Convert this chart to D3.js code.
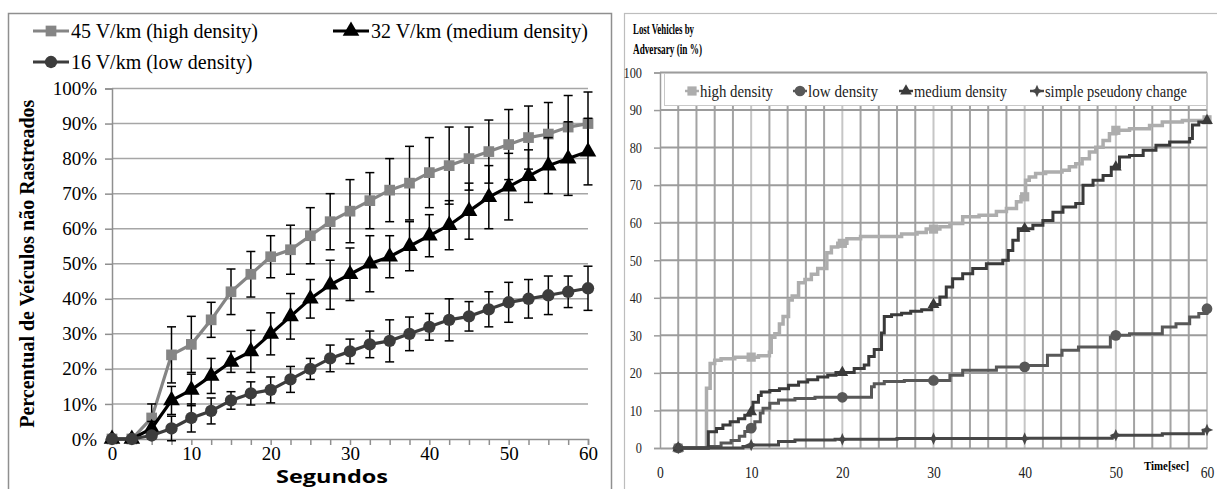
<!DOCTYPE html>
<html>
<head>
<meta charset="utf-8">
<script src="https://cdn.jsdelivr.net/npm/d3@7"></script>
<style>
  body { margin: 0; background: #fff; }
  svg { display: block; }
  svg text { font-family: "Liberation Serif", "Times New Roman", "DejaVu Serif", serif; }
</style>
</head>
<body>
<div id="chart"></div>
<script>
// ---------- left chart data ----------
var leftTimes = [0, 2.5, 5, 7.5, 10, 12.5, 15, 17.5, 20, 22.5, 25, 27.5, 30, 32.5, 35, 37.5, 40, 42.5, 45, 47.5, 50, 52.5, 55, 57.5, 60];
var highVals = [0, 0, 6, 24, 27, 34, 42, 47, 52, 54, 58, 62, 65, 68, 71, 73, 76, 78, 80, 82, 84, 86, 87, 89, 90];
var highErr  = [0, 0, 4, 8, 8, 5, 6.5, 6.5, 6, 7, 8, 8, 9, 8, 9, 10.5, 10, 11, 9, 9, 10, 9, 9, 9, 9];
var medVals  = [0, 0, 3, 11, 14, 18, 22, 25, 30, 35, 40, 44, 47, 50, 52, 55, 58, 61, 65, 69, 72, 75, 78, 80, 82];
var medErr   = [0, 0, 2, 4, 4.5, 5, 3, 6, 6, 6.5, 5.5, 7, 7.5, 8, 6, 7, 6, 7, 8, 9, 9.5, 7.5, 8, 10.5, 9.5];
var lowVals  = [0, 0, 1, 3, 6, 8, 11, 13, 14, 17, 20, 23, 25, 27, 28, 30, 32, 34, 35, 37, 39, 40, 41, 42, 43];
var lowErr   = [0, 0, 1, 3.5, 4, 3.7, 2.5, 3.3, 3.7, 3.7, 3, 3.8, 3.5, 3.8, 6, 4.8, 3.8, 6, 4.2, 5, 5.7, 5.5, 5.5, 4.5, 6.3];
var leftYTicks = [0, 10, 20, 30, 40, 50, 60, 70, 80, 90, 100];
var leftXLabels = [0, 10, 20, 30, 40, 50, 60];
var leftNames = ["45 V/km (high density)", "32 V/km (medium density)", "16 V/km (low density)"];

// ---------- right chart data (step points) ----------
var highT = [2, 5.1, 5.5, 6.0, 6.7, 8.2, 10.8, 12.0, 12.2, 12.6, 13.1, 13.5, 14.1, 14.5, 15.2, 15.9, 16.6, 17.3, 18.3, 18.8, 19.5, 20.5, 22, 26.5, 28.2, 29.2, 30.7, 31.8, 33.2, 35.0, 36.9, 38.0, 39.1, 39.6, 40.1, 40.5, 41.2, 42.3, 44.1, 44.9, 45.6, 46.3, 47.1, 47.8, 48.6, 49.3, 50.0, 51.5, 53.7, 55.1, 57.3, 60];
var highV = [0, 15.9, 22.5, 23.4, 23.8, 24.2, 24.6, 25.5, 29.5, 30.4, 33, 35, 39.4, 40.5, 44, 44.9, 46.3, 47.8, 52, 53.5, 54.5, 55.7, 56.3, 57, 57.4, 58.3, 58.9, 59.8, 61.6, 62, 63, 63.8, 65.6, 66.9, 71.3, 72.2, 73.1, 73.5, 74, 74.9, 75.7, 77, 78.8, 80.1, 81.9, 83.7, 84.6, 85, 85.9, 86.8, 87.2, 87.4];
var lowT = [2, 5.3, 6.7, 7.8, 8.7, 9.3, 10.0, 10.4, 11.0, 11.3, 12.05, 13.0, 14.8, 17.0, 23.2, 23.5, 24.6, 26.8, 31.8, 33.2, 36.9, 40.1, 42.5, 44.1, 45.9, 49.4, 50.0, 51.5, 55.1, 56.6, 58.1, 59.1, 60];
var lowV = [0, 0.4, 1.3, 2, 3.1, 4.4, 5.3, 7, 9.3, 10.6, 11.9, 12.8, 13.2, 13.5, 16.3, 17.1, 17.7, 18, 19.4, 20.7, 21.6, 22, 24.7, 26, 26.9, 29.5, 30, 30.4, 32.2, 33.1, 34.9, 35.8, 37.1];
var medT = [2, 5.3, 6.2, 6.9, 7.7, 8.6, 9.3, 9.9, 10.2, 10.8, 11.1, 12.05, 13.1, 14.1, 15.2, 16.2, 17.3, 18.4, 19.3, 21.3, 22.4, 22.9, 23.5, 24.3, 24.6, 25.4, 26.5, 27.5, 28.7, 29.8, 30.7, 31.4, 32.1, 33.2, 34.3, 35.8, 37.6, 38.2, 38.7, 39.3, 40.9, 42.0, 43.1, 44.2, 45.6, 46.4, 47.5, 48.6, 49.5, 50.4, 51.5, 53.0, 54.4, 55.9, 58.1, 58.4, 59.1, 60];
var medV = [0, 4.3, 5.2, 6.1, 7, 7.8, 8.7, 9.6, 12.2, 14, 14.9, 15.3, 15.8, 16.7, 17.6, 18.2, 18.9, 19.4, 20.1, 21.2, 22.1, 24.4, 26.2, 30.6, 35, 35.5, 35.9, 36.4, 36.8, 38.2, 40.2, 42.9, 45.1, 46.4, 47.8, 49.1, 50, 52.6, 55.3, 58.4, 59.3, 60.6, 62.8, 64.2, 65.1, 70, 71.3, 72.6, 74.8, 77.5, 77.9, 79.3, 80.6, 81.5, 82.4, 86, 86.8, 87.2];
var simpleT = [2, 9.1, 10.0, 13.0, 14.8, 19.2, 26, 40.1, 49.6, 50.0, 55.1, 59.6, 60];
var simpleV = [0, 0.4, 0.8, 1.7, 2.1, 2.3, 2.5, 2.6, 2.9, 3.4, 3.8, 4.7, 4.8];
var markerTimes = [2, 10, 20, 30, 40, 50, 60];
var rightYTicks = [0, 10, 20, 30, 40, 50, 60, 70, 80, 90, 100];
var rightXLabels = [0, 10, 20, 30, 40, 50, 60];
var rightGridX = [2, 4, 6, 8, 10, 12, 14, 16, 18, 20, 22, 24, 26, 28, 30, 32, 34, 36, 38, 40, 42, 44, 46, 48, 50, 52, 54, 56, 58, 60];
var rightNames = ["high density", "low density", "medium density", "simple pseudony change"];

var svg = d3.select("#chart").append("svg")
    .attr("width", 1217)
    .attr("height", 489);

// four point star used by the "simple pseudony change" series
var star4 = {
  draw: function(ctx, size) {
    var r = Math.sqrt(size) * 0.75, q = r * 0.3;
    ctx.moveTo(0, -r); ctx.lineTo(q, -q); ctx.lineTo(r, 0); ctx.lineTo(q, q);
    ctx.lineTo(0, r); ctx.lineTo(-q, q); ctx.lineTo(-r, 0); ctx.lineTo(-q, -q);
    ctx.closePath();
  }
};

var serif = "\"Liberation Serif\", \"Times New Roman\", \"DejaVu Serif\", serif";

// ================= LEFT CHART =================
svg.append("rect")
    .attr("x", 8.5).attr("y", 13.5).attr("width", 603).attr("height", 490)
    .attr("fill", "none").attr("stroke", "#8f8f8f").attr("stroke-width", 1.5);

var lx = d3.scaleLinear().domain([0, 60]).range([112, 588]);
var ly = d3.scaleLinear().domain([0, 100]).range([439, 88.5]);

// gridlines
svg.append("g").selectAll("line")
    .data(leftYTicks.filter(function(d) { return d > 0; }))
  .enter().append("line")
    .attr("x1", lx(0)).attr("x2", lx(60))
    .attr("y1", function(d) { return ly(d); })
    .attr("y2", function(d) { return ly(d); })
    .attr("stroke", "#a6a6a6").attr("stroke-width", 1.5);

// y axis
var lyAxis = svg.append("g")
    .attr("transform", "translate(" + lx(0) + ",0)")
    .call(d3.axisLeft(ly).tickValues(leftYTicks).tickSize(7).tickPadding(8)
      .tickFormat(function(d) { return d + "%"; }));
lyAxis.select(".domain").attr("stroke", "#8f8f8f").attr("stroke-width", 1.5);
lyAxis.selectAll(".tick line").attr("stroke", "#8f8f8f").attr("stroke-width", 1.5);
lyAxis.selectAll("text").style("font-family", serif).style("font-size", "19px").attr("fill", "#000");

// x axis
var lxAxis = svg.append("g")
    .attr("transform", "translate(0," + ly(0) + ")")
    .call(d3.axisBottom(lx).tickValues(leftTimes).tickSize(6).tickPadding(2)
      .tickFormat(function(d) { return leftXLabels.indexOf(d) >= 0 ? d : ""; }));
lxAxis.select(".domain").attr("stroke", "#8f8f8f").attr("stroke-width", 1.5);
lxAxis.selectAll(".tick line").attr("stroke", "#8f8f8f").attr("stroke-width", 1.5);
lxAxis.selectAll("text").style("font-family", serif).style("font-size", "19px").attr("fill", "#000");

// axis titles
svg.append("text")
    .attr("transform", "translate(27," + ly(50) + ") rotate(-90)")
    .attr("text-anchor", "middle").attr("dominant-baseline", "central")
    .style("font-family", serif).style("font-weight", "bold").style("font-size", "20px")
    .text("Percentual de Veículos não Rastreados");
svg.append("text")
    .attr("x", 276).attr("y", 483)
    .attr("textLength", 112).attr("lengthAdjust", "spacingAndGlyphs")
    .style("font-family", "\"Open Sans\", \"DejaVu Sans\", sans-serif").style("font-weight", "bold").style("font-size", "18px")
    .text("Segundos");

var leftSeries = [
  { name: leftNames[0], vals: highVals, err: highErr, color: "#858585", symbol: d3.symbolSquare, size: 115 },
  { name: leftNames[1], vals: medVals, err: medErr, color: "#000", symbol: d3.symbolTriangle, size: 120 },
  { name: leftNames[2], vals: lowVals, err: lowErr, color: "#3c3c3c", symbol: d3.symbolCircle, size: 120 }
];

var lline = d3.line()
    .x(function(d, i) { return lx(leftTimes[i]); })
    .y(function(d) { return ly(d); });

leftSeries.forEach(function(s) {
  var g = svg.append("g");
  g.append("path")
      .attr("d", lline(s.vals))
      .attr("fill", "none").attr("stroke", s.color).attr("stroke-width", 3.2);

  // error bars
  var eb = g.selectAll(".err")
      .data(s.vals.map(function(v, i) { return { t: leftTimes[i], v: v, e: s.err[i] }; })
        .filter(function(d) { return d.e > 0; }))
    .enter().append("g");
  eb.append("line")
      .attr("x1", function(d) { return lx(d.t); }).attr("x2", function(d) { return lx(d.t); })
      .attr("y1", function(d) { return ly(d.v - d.e); }).attr("y2", function(d) { return ly(d.v + d.e); })
      .attr("stroke", "#000").attr("stroke-width", 1.5);
  [-1, 1].forEach(function(sign) {
    eb.append("line")
        .attr("x1", function(d) { return lx(d.t) - 4.5; }).attr("x2", function(d) { return lx(d.t) + 4.5; })
        .attr("y1", function(d) { return ly(d.v + sign * d.e); })
        .attr("y2", function(d) { return ly(d.v + sign * d.e); })
        .attr("stroke", "#000").attr("stroke-width", 1.5);
  });

  g.selectAll(".mark")
      .data(s.vals)
    .enter().append("path")
      .attr("transform", function(d, i) { return "translate(" + lx(leftTimes[i]) + "," + ly(d) + ")"; })
      .attr("d", d3.symbol().type(s.symbol).size(s.size))
      .attr("fill", s.color);
});

// left legend
var leftLegendPos = [[33, 31], [333, 31], [33, 62]];
leftSeries.forEach(function(s, i) {
  var p = leftLegendPos[i];
  var g = svg.append("g").attr("transform", "translate(" + p[0] + "," + p[1] + ")");
  g.append("line").attr("x1", 0).attr("x2", 36).attr("stroke", s.color).attr("stroke-width", 3.2);
  g.append("path").attr("transform", "translate(18,0)")
      .attr("d", d3.symbol().type(s.symbol).size(s.size)).attr("fill", s.color);
  g.append("text").attr("x", 38).attr("dominant-baseline", "central")
      .style("font-family", serif).style("font-size", "20px").text(s.name);
});

// ================= RIGHT CHART =================
svg.append("rect")
    .attr("x", 624.5).attr("y", 13.5).attr("width", 620).attr("height", 490)
    .attr("fill", "none").attr("stroke", "#bdbdbd").attr("stroke-width", 1.2);

var rx = d3.scaleLinear().domain([0, 60]).range([660, 1207]);
var ry = d3.scaleLinear().domain([0, 100]).range([448, 72.5]);

// vertical grid every 2 s
svg.append("g").selectAll("line")
    .data(rightGridX)
  .enter().append("line")
    .attr("x1", function(d) { return rx(d); }).attr("x2", function(d) { return rx(d); })
    .attr("y1", ry(0)).attr("y2", ry(100))
    .attr("stroke", function(d) { return d % 10 === 0 ? "#c6c6c6" : "#a3a3a3"; })
    .attr("stroke-width", 2);

// horizontal grid every 10
svg.append("g").selectAll("line")
    .data(rightYTicks.filter(function(d) { return d > 0; }))
  .enter().append("line")
    .attr("x1", rx(0)).attr("x2", rx(60))
    .attr("y1", function(d) { return ry(d); }).attr("y2", function(d) { return ry(d); })
    .attr("stroke", "#9c9c9c").attr("stroke-width", 2);

var ryAxis = svg.append("g")
    .attr("transform", "translate(" + rx(0) + ",0)")
    .call(d3.axisLeft(ry).tickValues(rightYTicks).tickSize(6).tickPadding(12));
ryAxis.select(".domain").attr("stroke", "#9c9c9c").attr("stroke-width", 1.5);
ryAxis.selectAll(".tick line").attr("stroke", "#9c9c9c").attr("stroke-width", 1.5);
ryAxis.selectAll("text").style("font-family", serif).style("font-size", "15px").attr("fill", "#222")
    .attr("transform", "scale(0.82,1)").attr("x", -18 / 0.82);

// x labels: condensed by scaling each label around its own tick
var rxAxis = svg.append("g")
    .attr("transform", "translate(0," + ry(0) + ")")
    .call(d3.axisBottom(rx).tickValues(rightXLabels).tickSize(0).tickPadding(19));
rxAxis.select(".domain").attr("stroke", "#9c9c9c").attr("stroke-width", 2);
rxAxis.selectAll("text").style("font-family", serif).style("font-size", "16px").attr("fill", "#222")
    .attr("transform", "scale(0.85,1)");

svg.append("text")
    .attr("x", 1144).attr("y", 470)
    .attr("textLength", 45).attr("lengthAdjust", "spacingAndGlyphs")
    .style("font-family", serif).style("font-weight", "bold").style("font-size", "13px")
    .text("Time[sec]");

// title
svg.append("text").attr("x", 633).attr("y", 34)
    .attr("textLength", 61).attr("lengthAdjust", "spacingAndGlyphs")
    .style("font-family", serif).style("font-weight", "bold").style("font-size", "15px")
    .text("Lost Vehicles by");
svg.append("text").attr("x", 633).attr("y", 54)
    .attr("textLength", 69).attr("lengthAdjust", "spacingAndGlyphs")
    .style("font-family", serif).style("font-weight", "bold").style("font-size", "15px")
    .text("Adversary (in %)");

var rightSeries = [
  { name: rightNames[0], t: highT, v: highV, color: "#adadad", width: 3.5, symbol: d3.symbolSquare, size: 85 },
  { name: rightNames[1], t: lowT, v: lowV, color: "#585858", width: 3, symbol: d3.symbolCircle, size: 90 },
  { name: rightNames[2], t: medT, v: medV, color: "#3a3a3a", width: 3, symbol: d3.symbolTriangle, size: 60 },
  { name: rightNames[3], t: simpleT, v: simpleV, color: "#474747", width: 3, symbol: star4, size: 70 }
];

var rline = d3.line()
    .curve(d3.curveStepAfter)
    .x(function(d) { return rx(d[0]); })
    .y(function(d) { return ry(d[1]); });

var bisect = d3.bisector(function(d) { return d; }).right;

rightSeries.forEach(function(s) {
  var pts = s.t.map(function(t, i) { return [t, s.v[i]]; });
  svg.append("path")
      .attr("d", rline(pts))
      .attr("fill", "none").attr("stroke", s.color).attr("stroke-width", s.width);
  svg.append("g").selectAll("path")
      .data(markerTimes)
    .enter().append("path")
      .attr("transform", function(t) {
        var i = Math.max(0, bisect(s.t, t) - 1);
        return "translate(" + rx(t) + "," + ry(s.v[i]) + ")";
      })
      .attr("d", d3.symbol().type(s.symbol).size(s.size))
      .attr("fill", s.color);
});

// right legend
svg.append("rect")
    .attr("x", 664.5).attr("y", 73.5).attr("width", 542).attr("height", 32)
    .attr("fill", "#fff").attr("stroke", "#c8c8c8").attr("stroke-width", 1);

var rightLegend = [[692, 73], [800, 70], [906, 93], [1037, 142]];
rightSeries.forEach(function(s, i) {
  var p = rightLegend[i];
  var g = svg.append("g").attr("transform", "translate(" + p[0] + ",91)");
  g.append("line").attr("x1", -7).attr("x2", 7).attr("stroke", s.color).attr("stroke-width", 2.5);
  g.append("path").attr("d", d3.symbol().type(s.symbol).size(s.size)).attr("fill", s.color);
  g.append("text").attr("x", 8).attr("dominant-baseline", "central")
      .attr("textLength", p[1]).attr("lengthAdjust", "spacingAndGlyphs")
      .style("font-family", serif).style("font-size", "17px").attr("fill", "#222")
      .text(s.name);
});
</script>
</body>
</html>
